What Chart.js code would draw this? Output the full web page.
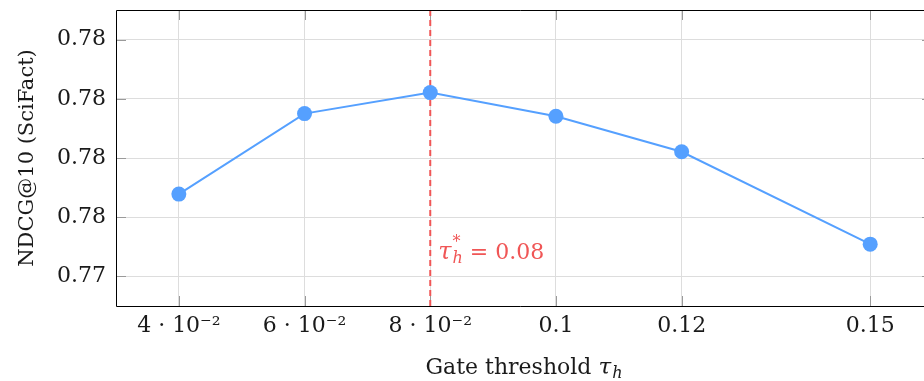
<!DOCTYPE html>
<html>
<head>
<meta charset="utf-8">
<script src="https://cdn.jsdelivr.net/npm/chart.js@4.4.1/dist/chart.umd.min.js"></script>
<style>
  html, body { margin: 0; padding: 0; background: #fff; overflow: hidden; }
  canvas { display: block; }
</style>
</head>
<body>
<canvas id="c" width="924" height="381"></canvas>
<script>
// ---- data ----
const thresholds = [0.04, 0.06, 0.08, 0.10, 0.12, 0.15];
const ndcgValues = [0.77678, 0.7795, 0.78021, 0.77941, 0.77821, 0.77509];
const xTickValues = [0.04, 0.06, 0.08, 0.10, 0.12, 0.15];
const xTickLabels = ['4 \u00B7 10\u207B\u00B2', '6 \u00B7 10\u207B\u00B2', '8 \u00B7 10\u207B\u00B2', '0.1', '0.12', '0.15'];
const yTickValues = [0.774, 0.776, 0.778, 0.780, 0.782];
const yTickLabels = ['0.77', '0.78', '0.78', '0.78', '0.78'];
const bestThreshold = 0.08;
const bestLabel = ['\u03C4', '*', 'h', ' = 0.08'];
const xTitle = ['Gate threshold ', '\u03C4', 'h'];
const yTitle = 'NDCG@10 (SciFact)';

const BLUE = '#55a0ff';
const RED = '#f05656';
const FONT = '"DejaVu Serif", serif';
const TXT = '#1a1a1a';

const extras = {
  id: 'extras',
  beforeDatasetsDraw(chart) {
    const { ctx, chartArea: a, scales: { x, y } } = chart;
    ctx.save();
    // inner tick marks
    ctx.strokeStyle = '#9a9a9a';
    ctx.lineWidth = 1;
    xTickValues.forEach(v => {
      const px = Math.round(x.getPixelForValue(v)) + 0.5;
      ctx.beginPath();
      ctx.moveTo(px, a.bottom); ctx.lineTo(px, a.bottom - 10);
      ctx.moveTo(px, a.top); ctx.lineTo(px, a.top + 10);
      ctx.stroke();
    });
    yTickValues.forEach(v => {
      const py = Math.round(y.getPixelForValue(v)) + 0.5;
      ctx.beginPath();
      ctx.moveTo(a.left, py); ctx.lineTo(a.left + 10, py);
      ctx.moveTo(a.right, py); ctx.lineTo(a.right - 2, py);
      ctx.stroke();
    });
    // dashed vertical line
    const bx = x.getPixelForValue(bestThreshold);
    ctx.strokeStyle = RED;
    ctx.lineWidth = 2;
    ctx.setLineDash([6, 4]);
    ctx.beginPath();
    ctx.moveTo(bx, a.top); ctx.lineTo(bx, a.bottom);
    ctx.stroke();
    ctx.setLineDash([]);
    // annotation
    ctx.fillStyle = RED;
    ctx.textBaseline = 'alphabetic';
    ctx.textAlign = 'left';
    let cx = bx + 8;
    const by = 259;
    ctx.font = 'italic 24px ' + FONT;
    ctx.fillText(bestLabel[0], cx, by);
    cx += ctx.measureText(bestLabel[0]).width + 1;
    ctx.font = '16px ' + FONT;
    ctx.fillText(bestLabel[1], cx, by - 12);
    const w1 = ctx.measureText(bestLabel[1]).width;
    ctx.font = 'italic 16px ' + FONT;
    ctx.fillText(bestLabel[2], cx, by + 4);
    const w2 = ctx.measureText(bestLabel[2]).width;
    cx += Math.max(w1, w2);
    ctx.font = '22px ' + FONT;
    ctx.fillText(bestLabel[3], cx, by);
    ctx.restore();
  },
  afterDatasetsDraw(chart) {
    const { ctx, chartArea: a } = chart;
    ctx.save();
    ctx.strokeStyle = '#000';
    ctx.lineWidth = 1;
    const L = Math.round(a.left) + 0.5, T = Math.round(a.top) + 0.5, B = Math.round(a.bottom) + 0.5;
    ctx.beginPath();
    ctx.moveTo(a.right + 1, T); ctx.lineTo(L, T); ctx.lineTo(L, B); ctx.lineTo(a.right + 1, B);
    ctx.stroke();
    // x title
    ctx.fillStyle = TXT;
    ctx.textBaseline = 'alphabetic';
    ctx.textAlign = 'left';
    const f1 = '22px ' + FONT, f2 = 'italic 23px ' + FONT, f3 = 'italic 16px ' + FONT;
    ctx.font = f1; const wa = ctx.measureText(xTitle[0]).width;
    ctx.font = f2; const wb = ctx.measureText(xTitle[1]).width;
    ctx.font = f3; const wc = ctx.measureText(xTitle[2]).width;
    const total = wa + wb + wc + 1;
    let cx = 524 - total / 2;
    const ty = 374;
    ctx.font = f1; ctx.fillText(xTitle[0], cx, ty); cx += wa;
    ctx.font = f2; ctx.fillText(xTitle[1], cx, ty); cx += wb + 1;
    ctx.font = f3; ctx.fillText(xTitle[2], cx, ty + 4);
    // y title
    ctx.translate(33, (a.top + a.bottom) / 2);
    ctx.rotate(-Math.PI / 2);
    ctx.textAlign = 'center';
    ctx.font = '21px ' + FONT;
    ctx.fillText(yTitle, 0, 0);
    ctx.restore();
  }
};

new Chart(document.getElementById('c'), {
  type: 'line',
  data: {
    datasets: [{
      data: thresholds.map((t, i) => ({ x: t, y: ndcgValues[i] })),
      borderColor: BLUE,
      backgroundColor: BLUE,
      borderWidth: 2,
      pointRadius: 7.5,
      pointHoverRadius: 7.5,
      pointBorderWidth: 0,
      pointBackgroundColor: BLUE,
      tension: 0,
      clip: false
    }]
  },
  options: {
    responsive: false,
    maintainAspectRatio: false,
    animation: false,
    devicePixelRatio: 1,
    layout: { autoPadding: false, padding: { top: 10, right: 0, bottom: 0, left: 0 } },
    plugins: { legend: { display: false }, tooltip: { enabled: false } },
    scales: {
      x: {
        type: 'linear',
        min: 0.03,
        max: 0.15856,
        afterBuildTicks: s => { s.ticks = xTickValues.map(v => ({ value: v })); },
        afterFit: s => { s.height = 75; s.paddingLeft = 0; s.paddingRight = 0; },
        ticks: {
          callback: (v, i) => xTickLabels[i],
          font: { family: FONT, size: 22 },
          color: TXT,
          padding: 7,
          maxRotation: 0,
          autoSkip: false
        },
        grid: { color: '#dddddd', lineWidth: 1, drawTicks: false },
        border: { display: false }
      },
      y: {
        min: 0.773,
        max: 0.783,
        afterBuildTicks: s => { s.ticks = yTickValues.map(v => ({ value: v })); },
        afterFit: s => { s.width = 116; s.paddingTop = 0; s.paddingBottom = 0; },
        ticks: {
          callback: (v, i) => yTickLabels[i],
          font: { family: FONT, size: 22 },
          color: TXT,
          padding: 10,
          autoSkip: false
        },
        grid: { color: '#dddddd', lineWidth: 1, drawTicks: false },
        border: { display: false }
      }
    }
  },
  plugins: [extras]
});
</script>
</body>
</html>
